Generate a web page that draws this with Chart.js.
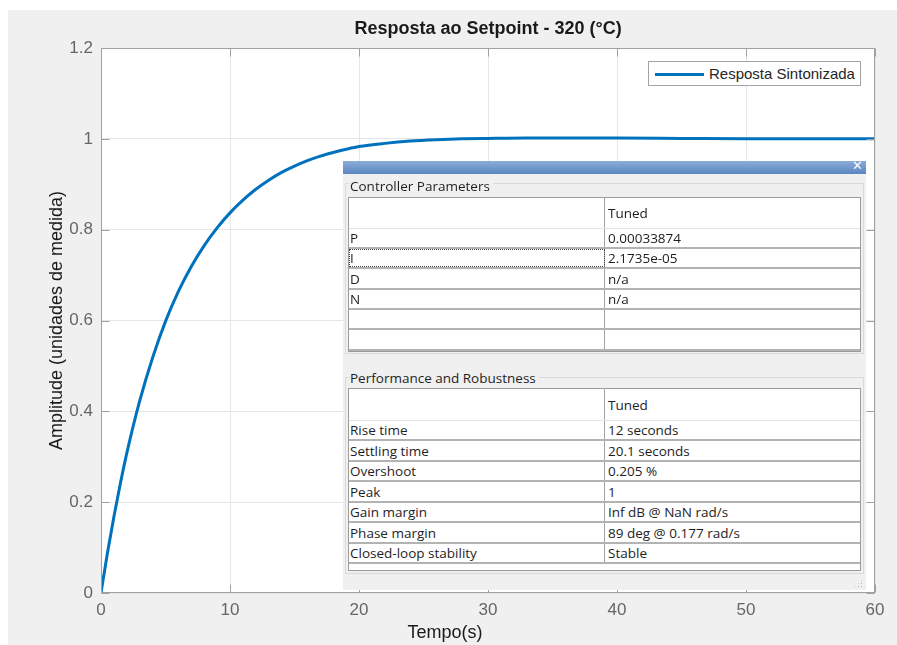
<!DOCTYPE html>
<html>
<head>
<meta charset="utf-8">
<script src="https://cdn.jsdelivr.net/npm/chart.js@4.4.1/dist/chart.umd.min.js"></script>
<style>
  html, body { margin: 0; padding: 0; background: #fff; }
  #wrap { position: relative; width: 897px; height: 645px; overflow: hidden; }
  #chart { position: absolute; left: 0; top: 0; }
  #legend {
    position: absolute; left: 648px; top: 61px; width: 211px; height: 23px;
    border: 1px solid #a3a3a3; background: #fff;
    font: 15px "Liberation Sans", Arial, sans-serif; color: #262626;
  }
  #legend .swatch { position: absolute; left: 6px; top: 11px; width: 49px; height: 3px; }
  #legend .txt { position: absolute; left: 60px; top: 0; line-height: 24px; white-space: nowrap; }

  #tuner {
    position: absolute; left: 343px; top: 161px; width: 523px; height: 429px;
    background: #f0f0f0; font: 13.5px "Open Sans", "Noto Sans", sans-serif; color: #1e1e1e;
  }
  #tuner .bar {
    position: absolute; left: 0; top: 0; width: 100%; height: 13px;
    background: linear-gradient(#8badd8, #5a86c0);
  }
  #tuner .bar .close {
    position: absolute; right: 3px; top: -3px; color: #fff; font: bold 13px "DejaVu Sans", sans-serif;
  }
  #tuner .grp { position: absolute; left: 2px; width: 519px; border: 1px solid #dadada; box-sizing: border-box; }
  #tuner .cap { position: absolute; left: 7px; background: #f0f0f0; padding-right: 3px; line-height: 18px; white-space: nowrap; }
  #tuner .tbl {
    position: absolute; left: 5px; width: 513px; background: #fff;
    border: 1px solid #9c9c9c; box-sizing: border-box;
  }
  #tuner .row { position: relative; box-sizing: border-box; border-bottom: 2px solid #b3b3b3; }
  #tuner .row.head { border-bottom: 1px solid #e2e2e2; }
  #tuner .row.tail { border-bottom: none; background: #fff; }
  #tuner .cell { position: absolute; top: 0; bottom: 0; display: flex; align-items: center; white-space: nowrap; box-sizing: border-box; }
  #tuner .c1 { left: 0; width: 256px; padding-left: 1px; border-right: 1px solid #a3a3a3; }
  #tuner .c2 { left: 256px; right: 0; padding-left: 3px; }
  #tuner .focus { outline: 1px dotted #444; outline-offset: -1px; }
  #tuner .grip {
    position: absolute; right: 3px; bottom: 2px; width: 9px; height: 9px;
    background-image: radial-gradient(circle, #b0b0b0 0.8px, transparent 1px);
    background-size: 3px 3px;
    clip-path: polygon(100% 0, 100% 100%, 0 100%);
  }
</style>
</head>
<body>
<div id="wrap">
  <canvas id="chart" width="897" height="645"></canvas>
  <div id="legend"><div class="swatch"></div><div class="txt"></div></div>
  <div id="tuner">
    <div class="bar"><span class="close">✕</span></div>
    <div class="grp" style="top:22px;height:171px;"></div>
    <div class="cap" style="top:16px;">Controller Parameters</div>
    <div class="tbl" id="tblController" style="top:36px;"></div>
    <div class="grp" style="top:216px;height:197px;"></div>
    <div class="cap" style="top:208px;">Performance and Robustness</div>
    <div class="tbl" id="tblPerformance" style="top:227px;"></div>
    <div class="grip"></div>
  </div>
</div>
<script>
// Step response of the tuned loop (time in seconds, normalised amplitude)
const timeSeconds = [0, 0.5, 1, 1.5, 2, 3, 4, 5, 6, 7, 8, 9, 10, 11, 12, 13, 14, 15, 16, 17, 18, 19, 20,
                     22, 24, 26, 28, 30, 33, 36, 40, 45, 50, 55, 60];
const responseValues = [0, 0.088, 0.168, 0.241, 0.308, 0.423, 0.518, 0.598, 0.664, 0.719, 0.765, 0.804, 0.837,
                        0.865, 0.889, 0.909, 0.926, 0.940, 0.952, 0.962, 0.970, 0.977, 0.983,
                        0.990, 0.995, 0.998, 1.000, 1.001, 1.002, 1.002, 1.002, 1.001, 1.0, 1.0, 1.0];

const seriesLabel = 'Resposta Sintonizada';
const chartTitle = 'Resposta ao Setpoint - 320 (°C)';
const xAxisLabel = 'Tempo(s)';
const yAxisLabel = 'Amplitude (unidades de medida)';
const xTicks = [0, 10, 20, 30, 40, 50, 60];
const yTicks = [0, 0.2, 0.4, 0.6, 0.8, 1, 1.2];

// PID tuner summary tables
const controllerHeader = ['', 'Tuned'];
const controllerRows = [
  ['P', '0.00033874'],
  ['I', '2.1735e-05'],
  ['D', 'n/a'],
  ['N', 'n/a'],
  ['', ''],
  ['', '']
];
const performanceHeader = ['', 'Tuned'];
const performanceRows = [
  ['Rise time', '12 seconds'],
  ['Settling time', '20.1 seconds'],
  ['Overshoot', '0.205 %'],
  ['Peak', '1'],
  ['Gain margin', 'Inf dB @ NaN rad/s'],
  ['Phase margin', '89 deg @ 0.177 rad/s'],
  ['Closed-loop stability', 'Stable']
];

const LINE_COLOR = '#0072BD';
const AXIS_COLOR = '#a0a0a0';
const GRID_COLOR = '#e6e6e6';
const TICK_LEN = 8;
const FONT = '"Liberation Sans", Arial, Helvetica, sans-serif';

function buildTable(el, header, rows, heights, focusRow) {
  const all = [header].concat(rows);
  all.forEach((r, i) => {
    const row = document.createElement('div');
    row.className = 'row' + (i === 0 ? ' head' : '');
    row.style.height = heights[i] + 'px';
    const c1 = document.createElement('div');
    c1.className = 'cell c1' + (i === focusRow ? ' focus' : '');
    c1.textContent = r[0];
    const c2 = document.createElement('div');
    c2.className = 'cell c2';
    c2.textContent = r[1];
    row.appendChild(c1); row.appendChild(c2);
    el.appendChild(row);
  });
  if (heights.length > all.length) {
    const tail = document.createElement('div');
    tail.className = 'row tail';
    tail.style.height = heights[all.length] + 'px';
    el.appendChild(tail);
  }
}
buildTable(document.getElementById('tblController'), controllerHeader, controllerRows,
  [31, 20, 20, 21, 20, 20, 21], 2);
buildTable(document.getElementById('tblPerformance'), performanceHeader, performanceRows,
  [32, 20, 21, 20, 21, 20, 21, 20, 6], -1);

// Figure background, axes box with inward ticks, title and x label
const figurePlugin = {
  id: 'figure',
  beforeDraw(chart) {
    const { ctx, chartArea: a, width, height } = chart;
    ctx.save();
    ctx.fillStyle = '#ffffff';
    ctx.fillRect(0, 0, width, height);
    ctx.fillStyle = '#f0f0f0';
    ctx.fillRect(8, 10, width - 8, height - 10);
    ctx.fillStyle = '#ffffff';
    ctx.fillRect(a.left, a.top, a.right - a.left, a.bottom - a.top);
    ctx.restore();
  },
  afterDatasetsDraw(chart) {
    const { ctx, chartArea: a, scales } = chart;
    const L = Math.round(a.left) + 0.5, R = Math.round(a.right) - 0.5;
    const T = Math.round(a.top) + 0.5, B = Math.round(a.bottom) - 0.5;
    ctx.save();
    ctx.strokeStyle = AXIS_COLOR;
    ctx.lineWidth = 1;
    ctx.beginPath();
    scales.x.ticks.forEach(t => {
      const px = Math.round(scales.x.getPixelForValue(t.value)) + 0.5;
      ctx.moveTo(px, B); ctx.lineTo(px, B - TICK_LEN);
      ctx.moveTo(px, T); ctx.lineTo(px, T + TICK_LEN);
    });
    scales.y.ticks.forEach(t => {
      const py = Math.round(scales.y.getPixelForValue(t.value)) + 0.5;
      ctx.moveTo(L, py); ctx.lineTo(L + TICK_LEN, py);
      ctx.moveTo(R, py); ctx.lineTo(R - TICK_LEN, py);
    });
    ctx.stroke();
    ctx.strokeRect(L, T, R - L, B - T);
    ctx.restore();
  },
  afterDraw(chart) {
    const { ctx, chartArea: a } = chart;
    ctx.save();
    ctx.fillStyle = '#1a1a1a';
    ctx.textAlign = 'center';
    ctx.textBaseline = 'middle';
    ctx.font = 'bold 18px ' + FONT;
    ctx.fillText(chartTitle, (a.left + a.right) / 2, 29);
    ctx.font = '18px ' + FONT;
    ctx.fillText(xAxisLabel, 445, 633);
    ctx.restore();
  }
};

const chart = new Chart(document.getElementById('chart'), {
  type: 'line',
  data: {
    datasets: [{
      label: seriesLabel,
      data: timeSeconds.map((t, i) => ({ x: t, y: responseValues[i] })),
      borderColor: LINE_COLOR,
      backgroundColor: LINE_COLOR,
      borderWidth: 3,
      pointRadius: 0,
      cubicInterpolationMode: 'monotone',
      fill: false
    }]
  },
  options: {
    responsive: false,
    animation: false,
    devicePixelRatio: 1,
    layout: { padding: { top: 48, right: 22, left: 0, bottom: 0 } },
    plugins: {
      legend: { display: false },
      title: { display: false },
      tooltip: { enabled: false }
    },
    scales: {
      x: {
        type: 'linear',
        min: 0, max: 60,
        afterBuildTicks: s => { s.ticks = xTicks.map(v => ({ value: v })); },
        afterFit: s => { s.height = 52; },
        grid: { color: GRID_COLOR, drawTicks: false },
        border: { display: false },
        ticks: {
          padding: 7, color: '#666666', maxRotation: 0,
          font: { family: FONT, size: 17 },
          callback: v => String(v)
        }
      },
      y: {
        type: 'linear',
        min: 0, max: 1.2,
        afterBuildTicks: s => { s.ticks = yTicks.map(v => ({ value: v })); },
        afterFit: s => { s.width = 101; },
        grid: { color: GRID_COLOR, drawTicks: false },
        border: { display: false },
        ticks: {
          padding: 8, color: '#666666',
          font: { family: FONT, size: 17 },
          callback: v => String(+v.toFixed(1))
        },
        title: {
          display: true,
          text: yAxisLabel,
          color: '#1a1a1a',
          font: { family: FONT, size: 18 },
          padding: { top: 46, bottom: 0 }
        }
      }
    }
  },
  plugins: [figurePlugin]
});

// Legend box built from the dataset
const ds = chart.data.datasets[0];
document.querySelector('#legend .swatch').style.background = ds.borderColor;
document.querySelector('#legend .txt').textContent = ds.label;
</script>
</body>
</html>
